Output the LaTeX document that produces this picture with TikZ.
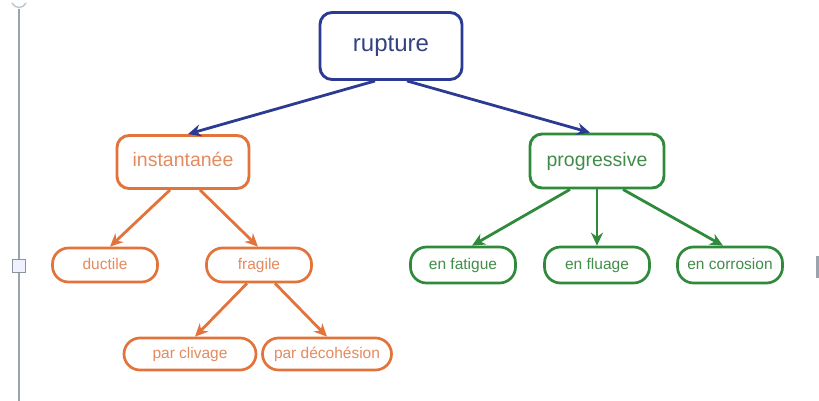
\documentclass[tikz,border=0pt]{standalone}
\usepackage{fontspec}
\setmainfont{Liberation Sans}
\usetikzlibrary{arrows.meta}
\definecolor{cblue}{HTML}{2B3A92}
\definecolor{cbluet}{HTML}{34427F}
\definecolor{corange}{HTML}{E2733A}
\definecolor{corauget}{HTML}{E48A5E}
\definecolor{cgreen}{HTML}{2F8A3C}
\definecolor{cgreent}{HTML}{418C48}
\definecolor{cui}{HTML}{9AA3AE}
\begin{document}
\begin{tikzpicture}[x=1pt,y=-1pt,
  bigbox/.style={draw, line width=2.9pt, rounded corners=12pt, inner sep=0pt, align=center},
  smallbox/.style={draw, line width=2.7pt, rounded corners=16pt, inner sep=0pt, align=center,
    minimum width=105pt, minimum height=34pt, font=\fontsize{15.5}{17}\selectfont,
    text height=11pt, text depth=3pt},
  arr/.style={line width=2.8pt, -{Stealth[length=13pt,width=12pt]}},
  bl/.style={cblue, text=cbluet},
  orb/.style={corange, text=corauget},
  grb/.style={cgreen, text=cgreent}]
\useasboundingbox (0,0) rectangle (819,401);
% UI artefacts
\draw[cui, line width=2pt] (19,9) -- (19,401);
\draw[cui!60, line width=1.5pt] (12,3) .. controls (15,9) and (23,9) .. (26,3);
\node[draw=cui!90!black, fill=blue!6, line width=1.3pt, minimum size=13pt, inner sep=0pt] (sq) at (19,266) {};
\draw[cui, line width=3pt] (817,256) -- (817,278);
% nodes
\node[bigbox, bl, minimum width=142pt, minimum height=67pt, font=\fontsize{24}{26}\selectfont, text height=17pt, text depth=5pt] (rup) at (391,46) {rupture};
\node[bigbox, orb, minimum width=132pt, minimum height=53pt, font=\fontsize{19.5}{22}\selectfont, text height=14pt, text depth=4pt] (ins) at (183,162) {instantanée};
\node[bigbox, grb, minimum width=134pt, minimum height=54pt, font=\fontsize{19.5}{22}\selectfont, text height=14pt, text depth=4pt] (pro) at (597,161) {progressive};
\node[smallbox, orb] (duc) at (105,265) {ductile};
\node[smallbox, orb] (fra) at (259,265) {fragile};
\node[smallbox, orb, minimum width=132pt, minimum height=32pt] (cli) at (190,354) {par clivage};
\node[smallbox, orb, minimum width=129pt, minimum height=32pt] (dec) at (327,354) {par décohésion};
\node[smallbox, grb, minimum height=36pt] (fat) at (463,265) {en fatigue};
\node[smallbox, grb, minimum height=36pt] (flu) at (597,265) {en fluage};
\node[smallbox, grb, minimum height=36pt] (cor) at (730,265) {en corrosion};
% connectors
\draw[arr, cblue] ([xshift=-16pt]rup.south) -- ([xshift=5pt]ins.north);
\draw[arr, cblue] ([xshift=16pt]rup.south) -- ([xshift=-7pt]pro.north);
\draw[arr, corange] ([xshift=-13pt]ins.south) -- ([xshift=5pt]duc.north);
\draw[arr, corange] ([xshift=17pt]ins.south) -- ([xshift=-1pt]fra.north);
\draw[arr, corange] ([xshift=-12pt]fra.south) -- ([xshift=5pt]cli.north);
\draw[arr, corange] ([xshift=16pt]fra.south) -- ([xshift=0pt]dec.north);
\draw[arr, cgreen] ([xshift=-27pt]pro.south) -- ([xshift=9pt]fat.north);
\draw[arr, cgreen] (pro.south) -- (flu.north);
\draw[arr, cgreen] ([xshift=26pt]pro.south) -- ([xshift=-7pt]cor.north);
\end{tikzpicture}
\end{document}
